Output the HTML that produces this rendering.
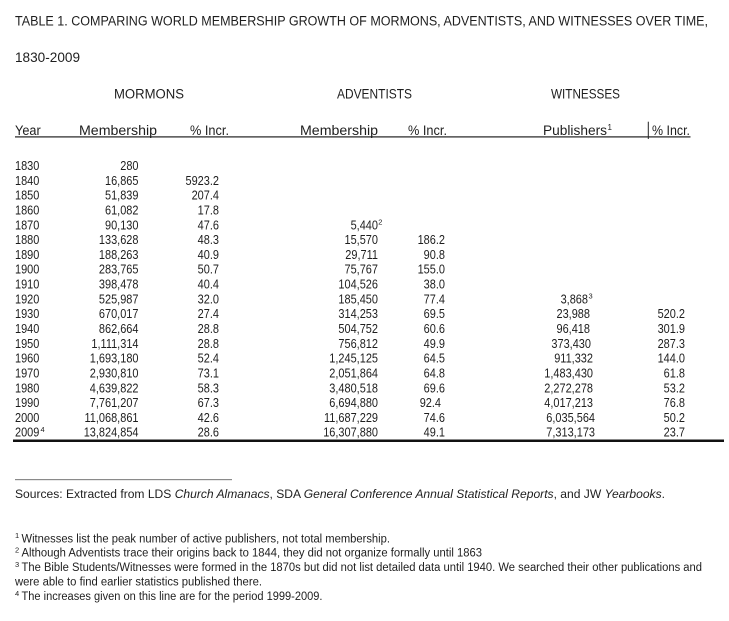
<!DOCTYPE html>
<html>
<head>
<meta charset="utf-8">
<style>
  html,body{margin:0;padding:0;background:#fff;}
  body{width:729px;height:621px;overflow:hidden;}
  svg{display:block;}
  text{font-family:"Liberation Sans",Arial,sans-serif;fill:#1e1e1e;}
</style>
</head>
<body>
<svg width="729" height="621" viewBox="0 0 729 621" xmlns="http://www.w3.org/2000/svg">
  <rect width="729" height="621" fill="#fff"/>

  <!-- Title -->
  <text x="15" y="25.5" font-size="13.5" textLength="693" lengthAdjust="spacingAndGlyphs">TABLE 1. COMPARING WORLD MEMBERSHIP GROWTH OF MORMONS, ADVENTISTS, AND WITNESSES OVER TIME,</text>
  <text x="15" y="62" font-size="13.5" textLength="65" lengthAdjust="spacingAndGlyphs">1830-2009</text>

  <!-- Group headers -->
  <text x="114" y="98.5" font-size="13.5" textLength="70" lengthAdjust="spacingAndGlyphs">MORMONS</text>
  <text x="337" y="98.5" font-size="13.5" textLength="75" lengthAdjust="spacingAndGlyphs">ADVENTISTS</text>
  <text x="551" y="98.5" font-size="13.5" textLength="69" lengthAdjust="spacingAndGlyphs">WITNESSES</text>

  <!-- Column headers -->
  <text x="15" y="135" font-size="13.5" textLength="25.7" lengthAdjust="spacingAndGlyphs">Year</text>
  <text x="79" y="135" font-size="13.5" textLength="78" lengthAdjust="spacingAndGlyphs">Membership</text>
  <text x="190" y="135" font-size="13.5" textLength="39" lengthAdjust="spacingAndGlyphs">% Incr.</text>
  <text x="300" y="135" font-size="13.5" textLength="78" lengthAdjust="spacingAndGlyphs">Membership</text>
  <text x="408" y="135" font-size="13.5" textLength="39" lengthAdjust="spacingAndGlyphs">% Incr.</text>
  <text x="543" y="135" font-size="13.5" textLength="64" lengthAdjust="spacingAndGlyphs">Publishers</text>
  <text x="607.5" y="130" font-size="8">1</text>
  <text x="652" y="135" font-size="13.5" textLength="38" lengthAdjust="spacingAndGlyphs">% Incr.</text>

  <!-- header underline + bar -->
  <rect x="15" y="136.3" width="675.5" height="1.2" fill="#222"/>
  <rect x="647.8" y="121.7" width="1" height="17.3" fill="#222"/>

  <!-- Years -->
  <g transform="translate(15 0) scale(0.87 1)" font-size="12.6">
    <text x="0" y="170">1830</text>
    <text x="0" y="184.82">1840</text>
    <text x="0" y="199.64">1850</text>
    <text x="0" y="214.46">1860</text>
    <text x="0" y="229.28">1870</text>
    <text x="0" y="244.1">1880</text>
    <text x="0" y="258.92">1890</text>
    <text x="0" y="273.74">1900</text>
    <text x="0" y="288.56">1910</text>
    <text x="0" y="303.38">1920</text>
    <text x="0" y="318.2">1930</text>
    <text x="0" y="333.02">1940</text>
    <text x="0" y="347.84">1950</text>
    <text x="0" y="362.66">1960</text>
    <text x="0" y="377.48">1970</text>
    <text x="0" y="392.3">1980</text>
    <text x="0" y="407.12">1990</text>
    <text x="0" y="421.94">2000</text>
    <text x="0" y="436.76">2009</text>
  </g>
  <text x="40.5" y="432" font-size="7.5">4</text>

  <!-- Mormon membership -->
  <g transform="translate(138.5 0) scale(0.87 1)" font-size="12.6" text-anchor="end">
    <text x="0" y="170">280</text>
    <text x="0" y="184.82">16,865</text>
    <text x="0" y="199.64">51,839</text>
    <text x="0" y="214.46">61,082</text>
    <text x="0" y="229.28">90,130</text>
    <text x="0" y="244.1">133,628</text>
    <text x="0" y="258.92">188,263</text>
    <text x="0" y="273.74">283,765</text>
    <text x="0" y="288.56">398,478</text>
    <text x="0" y="303.38">525,987</text>
    <text x="0" y="318.2">670,017</text>
    <text x="0" y="333.02">862,664</text>
    <text x="0" y="347.84">1,111,314</text>
    <text x="0" y="362.66">1,693,180</text>
    <text x="0" y="377.48">2,930,810</text>
    <text x="0" y="392.3">4,639,822</text>
    <text x="0" y="407.12">7,761,207</text>
    <text x="0" y="421.94">11,068,861</text>
    <text x="0" y="436.76">13,824,854</text>
  </g>

  <!-- Mormon % -->
  <g transform="translate(219 0) scale(0.87 1)" font-size="12.6" text-anchor="end">
    <text x="0" y="184.82">5923.2</text>
    <text x="0" y="199.64">207.4</text>
    <text x="0" y="214.46">17.8</text>
    <text x="0" y="229.28">47.6</text>
    <text x="0" y="244.1">48.3</text>
    <text x="0" y="258.92">40.9</text>
    <text x="0" y="273.74">50.7</text>
    <text x="0" y="288.56">40.4</text>
    <text x="0" y="303.38">32.0</text>
    <text x="0" y="318.2">27.4</text>
    <text x="0" y="333.02">28.8</text>
    <text x="0" y="347.84">28.8</text>
    <text x="0" y="362.66">52.4</text>
    <text x="0" y="377.48">73.1</text>
    <text x="0" y="392.3">58.3</text>
    <text x="0" y="407.12">67.3</text>
    <text x="0" y="421.94">42.6</text>
    <text x="0" y="436.76">28.6</text>
  </g>

  <!-- Adventist membership -->
  <g transform="translate(378 0) scale(0.87 1)" font-size="12.6" text-anchor="end">
    <text x="0" y="229.28">5,440</text>
    <text x="0" y="244.1">15,570</text>
    <text x="0" y="258.92">29,711</text>
    <text x="0" y="273.74">75,767</text>
    <text x="0" y="288.56">104,526</text>
    <text x="0" y="303.38">185,450</text>
    <text x="0" y="318.2">314,253</text>
    <text x="0" y="333.02">504,752</text>
    <text x="0" y="347.84">756,812</text>
    <text x="0" y="362.66">1,245,125</text>
    <text x="0" y="377.48">2,051,864</text>
    <text x="0" y="392.3">3,480,518</text>
    <text x="0" y="407.12">6,694,880</text>
    <text x="0" y="421.94">11,687,229</text>
    <text x="0" y="436.76">16,307,880</text>
  </g>
  <text x="378.3" y="224.5" font-size="7.5">2</text>

  <!-- Adventist % -->
  <g transform="translate(445 0) scale(0.87 1)" font-size="12.6" text-anchor="end">
    <text x="0" y="244.1">186.2</text>
    <text x="0" y="258.92">90.8</text>
    <text x="0" y="273.74">155.0</text>
    <text x="0" y="288.56">38.0</text>
    <text x="0" y="303.38">77.4</text>
    <text x="0" y="318.2">69.5</text>
    <text x="0" y="333.02">60.6</text>
    <text x="0" y="347.84">49.9</text>
    <text x="0" y="362.66">64.5</text>
    <text x="0" y="377.48">64.8</text>
    <text x="0" y="392.3">69.6</text>
    <text x="-4.6" y="407.12">92.4</text>
    <text x="0" y="421.94">74.6</text>
    <text x="0" y="436.76">49.1</text>
  </g>

  <!-- Witness publishers -->
  <g font-size="12.6" text-anchor="end">
    <text transform="translate(588 0) scale(0.87 1)" x="0" y="303.38">3,868</text>
    <text transform="translate(590 0) scale(0.87 1)" x="0" y="318.2">23,988</text>
    <text transform="translate(590 0) scale(0.87 1)" x="0" y="333.02">96,418</text>
    <text transform="translate(591 0) scale(0.87 1)" x="0" y="347.84">373,430</text>
    <text transform="translate(593 0) scale(0.87 1)" x="0" y="362.66">911,332</text>
    <text transform="translate(593 0) scale(0.87 1)" x="0" y="377.48">1,483,430</text>
    <text transform="translate(593 0) scale(0.87 1)" x="0" y="392.3">2,272,278</text>
    <text transform="translate(593 0) scale(0.87 1)" x="0" y="407.12">4,017,213</text>
    <text transform="translate(595 0) scale(0.87 1)" x="0" y="421.94">6,035,564</text>
    <text transform="translate(595 0) scale(0.87 1)" x="0" y="436.76">7,313,173</text>
  </g>
  <text x="588.5" y="298.5" font-size="7.5">3</text>

  <!-- Witness % -->
  <g transform="translate(685 0) scale(0.87 1)" font-size="12.6" text-anchor="end">
    <text x="0" y="318.2">520.2</text>
    <text x="0" y="333.02">301.9</text>
    <text x="0" y="347.84">287.3</text>
    <text x="0" y="362.66">144.0</text>
    <text x="0" y="377.48">61.8</text>
    <text x="0" y="392.3">53.2</text>
    <text x="0" y="407.12">76.8</text>
    <text x="0" y="421.94">50.2</text>
    <text x="0" y="436.76">23.7</text>
  </g>

  <!-- bottom rule -->
  <rect x="13" y="439.5" width="711" height="2.5" fill="#111"/>

  <!-- separator -->
  <rect x="15" y="479" width="217" height="1.2" fill="#8a8a8a"/>

  <!-- Sources -->
  <text x="15" y="498" font-size="12.2" textLength="650" lengthAdjust="spacingAndGlyphs">Sources: Extracted from LDS <tspan font-style="italic">Church Almanacs</tspan>, SDA <tspan font-style="italic">General Conference Annual Statistical Reports</tspan>, and JW <tspan font-style="italic">Yearbooks</tspan>.</text>

  <!-- Footnotes -->
  <text x="15" y="538" font-size="7.5">1</text>
  <text x="21.5" y="542.3" font-size="11.5" textLength="368.5" lengthAdjust="spacingAndGlyphs">Witnesses list the peak number of active publishers, not total membership.</text>

  <text x="15" y="552.5" font-size="7.5">2</text>
  <text x="21.5" y="556.7" font-size="11.5" textLength="460.5" lengthAdjust="spacingAndGlyphs">Although Adventists trace their origins back to 1844, they did not organize formally until 1863</text>

  <text x="15" y="567" font-size="7.5">3</text>
  <text x="21.5" y="571.2" font-size="11.5" textLength="680.5" lengthAdjust="spacingAndGlyphs">The Bible Students/Witnesses were formed in the 1870s but did not list detailed data until 1940. We searched their other publications and</text>

  <text x="15" y="585.7" font-size="11.5" textLength="247" lengthAdjust="spacingAndGlyphs">were able to find earlier statistics published there.</text>

  <text x="15" y="596" font-size="7.5">4</text>
  <text x="21.5" y="600.2" font-size="11.5" textLength="301" lengthAdjust="spacingAndGlyphs">The increases given on this line are for the period 1999-2009.</text>
</svg>
</body>
</html>
